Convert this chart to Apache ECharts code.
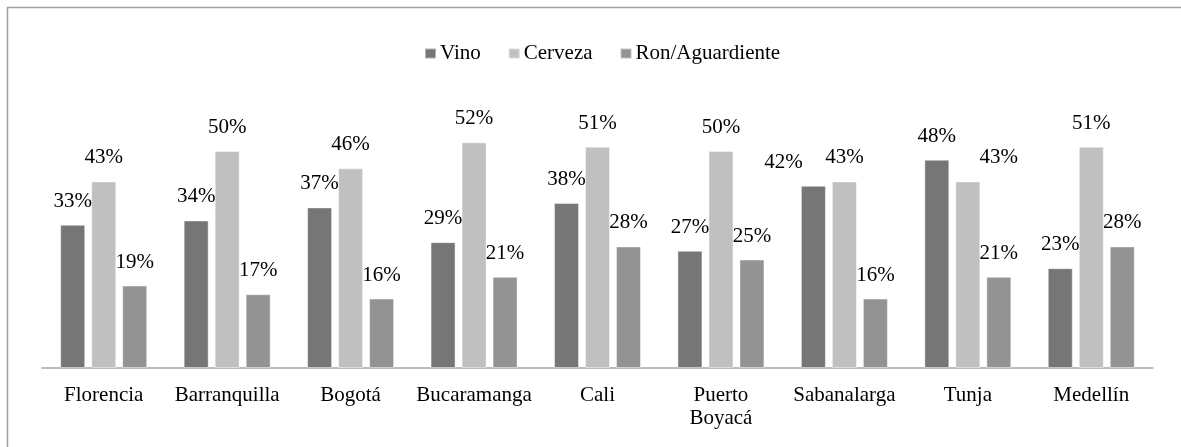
<!DOCTYPE html>
<html>
<head>
<meta charset="utf-8">
<script src="https://cdn.jsdelivr.net/npm/echarts@6/dist/echarts.min.js"></script>
<style>
html,body{margin:0;padding:0;background:#fff;}
#chart{width:1181px;height:447px;}
</style>
</head>
<body>
<div id="chart"></div>
<script>
const categories = ['Florencia', 'Barranquilla', 'Bogotá', 'Bucaramanga', 'Cali', 'Puerto\nBoyacá', 'Sabanalarga', 'Tunja', 'Medellín'];
const seriesNames = ['Vino', 'Cerveza', 'Ron/Aguardiente'];
const vino = [33, 34, 37, 29, 38, 27, 42, 48, 23];
const cerveza = [43, 50, 46, 52, 51, 50, 43, 43, 51];
const ron = [19, 17, 16, 21, 28, 25, 16, 21, 28];

const colors = ['#767676', '#c0c0c0', '#939393'];
const FONT = '"Liberation Serif", "Times New Roman", serif';
// label horizontal nudges (series index -> category index -> px)
const labelNudges = { 0: { 6: -30 }, 1: { 7: 31 } };

function buildData(values, si) {
  return values.map((v, i) => {
    const nudge = (labelNudges[si] || {})[i];
    if (nudge) return { value: v, label: { offset: [nudge, 0] } };
    return v;
  });
}

const allSeries = [vino, cerveza, ron].map((vals, si) => ({
  name: seriesNames[si],
  type: 'bar',
  data: buildData(vals, si),
  barWidth: 25,
  barGap: '24%',
  itemStyle: { color: colors[si], borderColor: 'rgba(255,255,255,0.45)', borderWidth: 1 },
  label: {
    show: true,
    position: 'top',
    distance: 13,
    formatter: '{c}%',
    color: '#000',
    fontFamily: FONT,
    fontSize: 21
  }
}));

const chart = echarts.init(document.getElementById('chart'), null, { renderer: 'canvas' });
chart.setOption({
  animation: false,
  backgroundColor: '#fff',
  graphic: [{
    type: 'rect',
    shape: { x: 7.5, y: 7.5, width: 1200, height: 460 },
    style: { fill: 'none', stroke: '#a0a0a0', lineWidth: 1.5 },
    silent: true
  }],
  legend: {
    data: seriesNames,
    top: 38,
    left: 419,
    itemWidth: 11,
    itemHeight: 10,
    itemGap: 27,
    icon: 'rect',
    textStyle: { fontFamily: FONT, fontSize: 21, color: '#000', padding: [0, 0, 0, -1] }
  },
  grid: { left: 42, right: 28, top: 107.6, bottom: 79, containLabel: false },
  xAxis: {
    type: 'category',
    data: categories,
    axisLine: { show: true, lineStyle: { color: '#a6a6a6', width: 1.5 } },
    axisTick: { show: false },
    axisLabel: {
      color: '#000',
      fontFamily: FONT,
      fontSize: 21,
      lineHeight: 23,
      margin: 16,
      interval: 0
    }
  },
  yAxis: {
    type: 'value',
    min: 0,
    max: 60,
    interval: 10,
    show: false,
    splitLine: { show: false }
  },
  series: allSeries
});
</script>
</body>
</html>
